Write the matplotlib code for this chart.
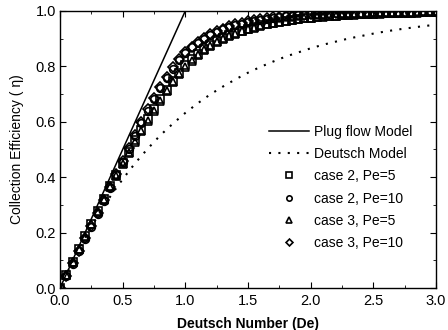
import matplotlib
matplotlib.use("Agg")
import matplotlib.pyplot as plt
from matplotlib.ticker import MultipleLocator, FormatStrFormatter

plt.rcParams['font.family'] = ['Liberation Sans', 'DejaVu Sans']

de = [round(0.05 * i, 2) for i in range(61)]

case2_pe5 = [0.000, 0.048, 0.095, 0.142, 0.188, 0.233, 0.278, 0.323, 0.367, 0.408,
             0.450, 0.492, 0.533, 0.572, 0.610, 0.646, 0.682, 0.716, 0.748, 0.777,
             0.803, 0.825, 0.845, 0.862, 0.877, 0.890, 0.902, 0.912, 0.921, 0.929,
             0.936, 0.942, 0.948, 0.953, 0.957, 0.961, 0.965, 0.968, 0.971, 0.974,
             0.976, 0.978, 0.980, 0.982, 0.983, 0.985, 0.986, 0.987, 0.988, 0.989,
             0.990, 0.991, 0.992, 0.992, 0.993, 0.994, 0.994, 0.995, 0.995, 0.996, 0.996]

case2_pe10 = [0.000, 0.042, 0.087, 0.132, 0.177, 0.222, 0.268, 0.314, 0.362, 0.408,
              0.455, 0.502, 0.549, 0.595, 0.640, 0.682, 0.722, 0.758, 0.792, 0.822,
              0.848, 0.868, 0.885, 0.900, 0.913, 0.924, 0.933, 0.941, 0.948, 0.954,
              0.959, 0.964, 0.968, 0.972, 0.975, 0.978, 0.980, 0.982, 0.984, 0.986,
              0.987, 0.988, 0.989, 0.990, 0.991, 0.992, 0.993, 0.993, 0.994, 0.994,
              0.995, 0.995, 0.996, 0.996, 0.996, 0.997, 0.997, 0.997, 0.998, 0.998, 0.998]

case3_pe5 = [0.000, 0.047, 0.093, 0.140, 0.186, 0.231, 0.275, 0.319, 0.363, 0.404,
             0.446, 0.487, 0.527, 0.566, 0.603, 0.640, 0.676, 0.710, 0.742, 0.771,
             0.797, 0.820, 0.840, 0.858, 0.873, 0.887, 0.899, 0.909, 0.918, 0.926,
             0.934, 0.940, 0.946, 0.951, 0.956, 0.960, 0.964, 0.967, 0.970, 0.973,
             0.975, 0.977, 0.979, 0.981, 0.983, 0.984, 0.985, 0.986, 0.987, 0.988,
             0.989, 0.990, 0.991, 0.992, 0.992, 0.993, 0.994, 0.994, 0.995, 0.995, 0.996]

case3_pe10 = [0.000, 0.044, 0.089, 0.134, 0.180, 0.225, 0.271, 0.318, 0.365, 0.411,
              0.458, 0.506, 0.553, 0.600, 0.645, 0.687, 0.727, 0.763, 0.796, 0.826,
              0.851, 0.871, 0.888, 0.903, 0.916, 0.927, 0.936, 0.944, 0.951, 0.957,
              0.962, 0.966, 0.970, 0.974, 0.977, 0.979, 0.981, 0.983, 0.985, 0.986,
              0.988, 0.989, 0.990, 0.991, 0.992, 0.992, 0.993, 0.994, 0.994, 0.995,
              0.995, 0.996, 0.996, 0.996, 0.997, 0.997, 0.997, 0.998, 0.998, 0.998, 0.998]

plug_x = [0.0, 1.0, 3.0]
plug_y = [0.0, 1.0, 1.0]

deutsch_x = [round(0.1 * i, 1) for i in range(31)]
deutsch_y = [0.000, 0.095, 0.181, 0.259, 0.330, 0.393, 0.451, 0.503, 0.551, 0.593,
             0.632, 0.667, 0.699, 0.727, 0.753, 0.777, 0.798, 0.817, 0.835, 0.850,
             0.865, 0.878, 0.889, 0.900, 0.909, 0.918, 0.926, 0.933, 0.939, 0.945, 0.950]

fig = plt.figure(figsize=(4.48, 3.30), dpi=100)
ax = fig.add_axes([0.134, 0.127, 0.839, 0.840])

ax.plot(plug_x, plug_y, color='black', lw=1.1, label='Plug flow Model')
ax.plot(deutsch_x, deutsch_y, color='black', lw=1.5, linestyle=(0, (1, 3.5)),
        label='Deutsch Model')
mk = dict(color='black', markerfacecolor='none', linestyle='none', markersize=5.5,
          markeredgewidth=1.2)
ax.plot(de, case2_pe5, marker='s', label='case 2, Pe=5', **mk)
ax.plot(de, case2_pe10, marker='o', label='case 2, Pe=10', **mk)
ax.plot(de, case3_pe5, marker='^', label='case 3, Pe=5', **mk)
ax.plot(de, case3_pe10, marker='D', label='case 3, Pe=10', markersize=5,
        color='black', markerfacecolor='none', linestyle='none', markeredgewidth=1.2)

ax.set_xlim(0, 3.0)
ax.set_ylim(0, 1.0)
ax.xaxis.set_major_locator(MultipleLocator(0.5))
ax.xaxis.set_minor_locator(MultipleLocator(0.25))
ax.yaxis.set_major_locator(MultipleLocator(0.2))
ax.yaxis.set_minor_locator(MultipleLocator(0.1))
ax.xaxis.set_major_formatter(FormatStrFormatter('%.1f'))
ax.yaxis.set_major_formatter(FormatStrFormatter('%.1f'))
ax.tick_params(which='both', direction='in', top=True, right=True, labelsize=10.5)
ax.tick_params(which='major', length=4)
ax.tick_params(axis='x', which='major', pad=4.5)
ax.tick_params(axis='y', which='major', pad=3)
ax.tick_params(which='minor', length=2)
for s in ax.spines.values():
    s.set_linewidth(1.0)

ax.set_xlabel('Deutsch Number (De)', fontsize=10, fontweight='bold', labelpad=6)
ax.set_ylabel('Collection Efficiency ( \u03b7)', fontsize=10, labelpad=8)

ax.legend(loc='upper left', bbox_to_anchor=(0.555, 0.59), frameon=False, fontsize=10,
          handlelength=2.9, handletextpad=0.4, labelspacing=0.6, borderaxespad=0,
          borderpad=0, markerscale=0.7)

fig.savefig('out.png', dpi=100)
